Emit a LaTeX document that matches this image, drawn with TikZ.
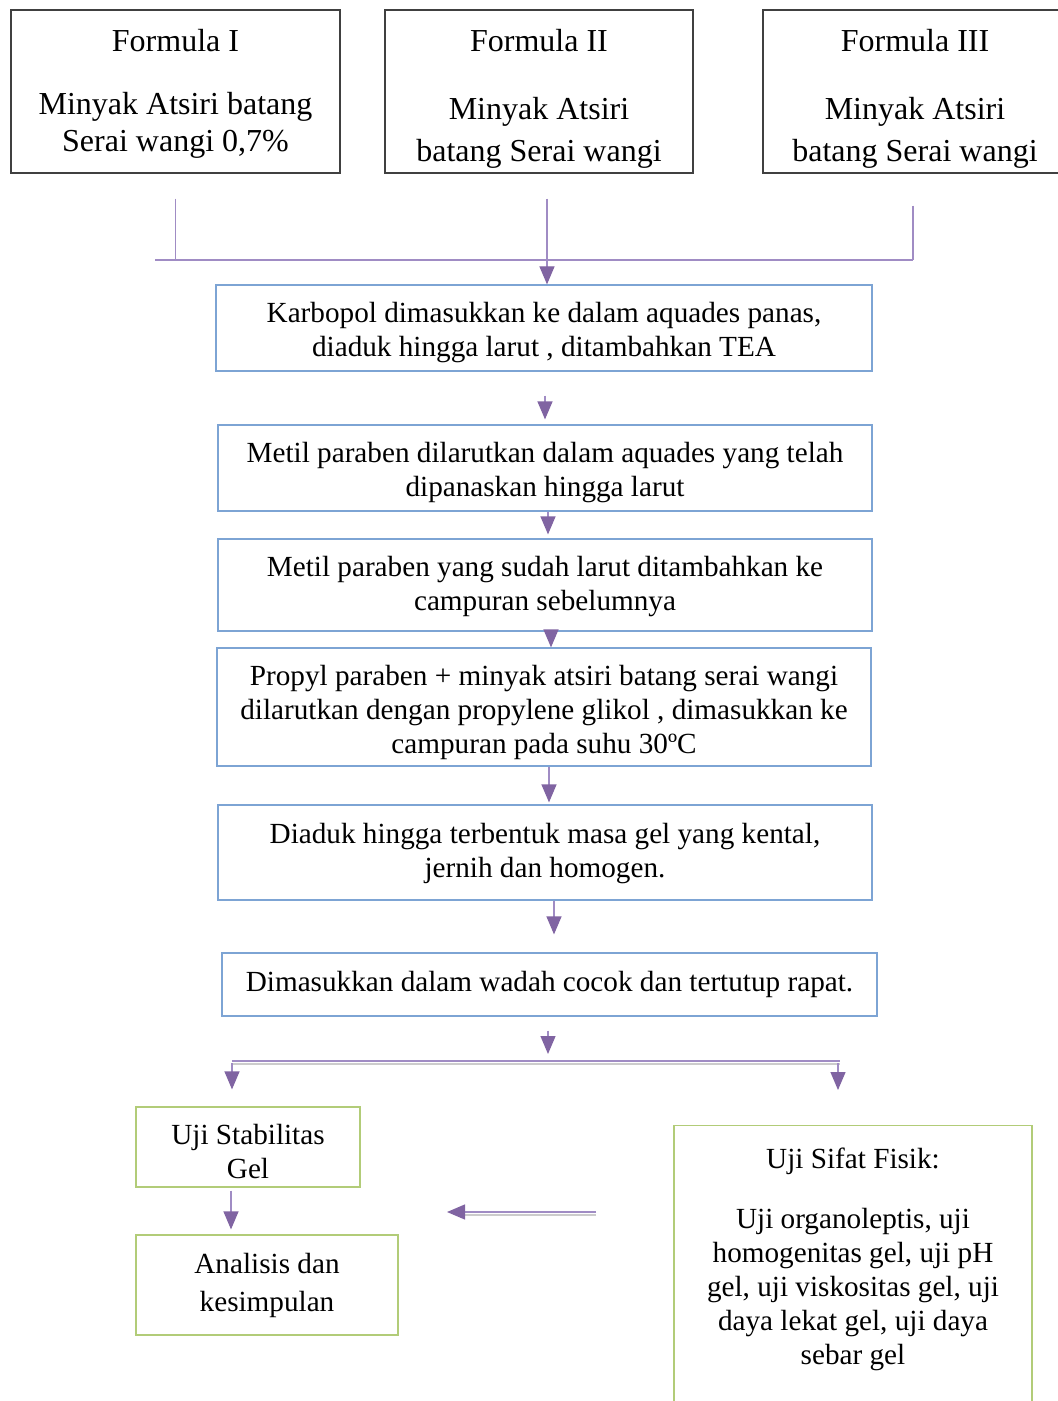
\documentclass[tikz,border=0pt]{standalone}
\usepackage{fontspec}
\setmainfont{Liberation Serif}
\usetikzlibrary{arrows.meta,positioning}
\definecolor{stageblue}{RGB}{125,164,212}
\definecolor{ujigreen}{RGB}{178,204,120}
\definecolor{linkpurple}{RGB}{160,140,196}
\definecolor{arrowpurple}{RGB}{128,100,162}

\begin{document}
\begin{tikzpicture}[x=0.5pt, y=-0.5pt,
    font=\fontsize{14.6pt}{17pt}\selectfont,
    fbox/.style={draw=black!75, line width=0.6pt, minimum height=81.5pt, inner sep=0pt},
    ftext/.style={anchor=north, align=center, inner sep=0pt, font=\fontsize{16pt}{18.5pt}\selectfont},
    stage/.style={draw=stageblue, line width=0.6pt, align=center, inner sep=0pt, minimum width=327pt},
    uji/.style={draw=ujigreen, line width=0.6pt, align=center, inner sep=0pt},
    link/.style={draw=linkpurple, line width=0.6pt},
    shadowline/.style={draw=black!20, line width=0.9pt},
    arr/.style={link, -{Triangle[width=7.5pt,length=9pt,color=arrowpurple]}}]
  \useasboundingbox (0,0) rectangle (1057,1401);

  % formula boxes
  \node[fbox, minimum width=164.5pt] (f1) at (175.5,91.5) {};
  \node[fbox, minimum width=154pt] (f2) at (539,91.5) {};
  \node[fbox, minimum width=150pt] (f3) at (913,91.5) {};
  \node[ftext] (f1txt) at (175.5,29) {Formula I\\[13pt]Minyak Atsiri batang\\Serai wangi 0,7\%};
  \node[ftext] (f2txt) at (539,29) {Formula II\\[15.5pt]Minyak Atsiri\\[2.5pt]batang Serai wangi};
  \node[ftext] (f3txt) at (915,29) {Formula III\\[15.5pt]Minyak Atsiri\\[2.5pt]batang Serai wangi};

  \coordinate (barL) at (155,260);
  \coordinate (barR) at (913,260);
  \draw[link, line width=0.8pt] (barL) -- (barR);
  \draw[link, shorten <=12.5pt] (f1.south) -- (f1.south |- barR);
  \draw[link, shorten <=16pt] (f3.south) -- (f3.south |- barR);

  % process steps
  \node[stage, minimum width=328pt, minimum height=43pt, text height=32pt] (karbo) at (544,328)
    {Karbopol dimasukkan ke dalam aquades panas,\\diaduk hingga larut , ditambahkan TEA};
  \node[stage, minimum height=43pt, text height=32pt] (metil) at (545,468)
    {Metil paraben dilarutkan dalam aquades yang telah\\dipanaskan hingga larut};
  \node[stage, minimum height=46pt, text height=29pt] (campur) at (545,585)
    {Metil paraben yang sudah larut ditambahkan ke\\campuran sebelumnya};
  \node[stage, minimum height=59pt, text height=50pt] (propil) at (544,707)
    {Propyl paraben + minyak atsiri batang serai wangi\\dilarutkan dengan propylene glikol , dimasukkan ke\\campuran pada suhu 30ºC};
  \node[stage, minimum height=47.5pt, text height=28pt] (aduk) at (545,852.5)
    {Diaduk hingga terbentuk masa gel yang kental,\\jernih dan homogen.};
  \node[stage, minimum width=327.5pt, minimum height=31.5pt] (wadah) at (549.5,984.5)
    {Dimasukkan dalam wadah cocok dan tertutup rapat.};

  \draw[arr, shorten <=12.5pt] ([xshift=4pt]f2.south) -- ([xshift=4pt]f2.south |- karbo.north);
  \draw[arr, shorten <=12pt, shorten >=2.5pt] ([xshift=0.5pt]karbo.south) -- ([xshift=0.5pt]karbo.south |- metil.north);
  \draw[arr, shorten >=2pt] ([xshift=1.5pt]metil.south) -- ([xshift=1.5pt]metil.south |- campur.north);
  \draw[arr, shorten <=-5pt] ([xshift=3pt]campur.south) -- ([xshift=3pt]campur.south |- propil.north);
  \draw[arr, shorten >=1pt] ([xshift=2.5pt]propil.south) -- ([xshift=2.5pt]propil.south |- aduk.north);
  \draw[arr, shorten >=9pt] ([xshift=4.5pt]aduk.south) -- ([xshift=4.5pt]aduk.south |- wadah.north);

  % split to the tests
  \coordinate (sL) at (232,1061);
  \coordinate (sR) at (840,1061);
  \draw[shadowline] ([yshift=-1.6pt]sL) -- ([yshift=-1.6pt]sR);
  \draw[link] (sL) -- (sR);
  \draw[arr, shorten <=7pt, shorten >=3.5pt] ([xshift=-0.75pt]wadah.south) -- ([xshift=-0.75pt]wadah.south |- sL);

  \node[uji, minimum width=112pt, minimum height=40pt, text height=31.5pt] (stab) at (248,1147)
    {Uji Stabilitas\\Gel};
  \node[uji, minimum width=131pt, minimum height=50pt, font=\fontsize{14.6pt}{19pt}\selectfont] (anal) at (267,1285)
    {Analisis dan\\kesimpulan};
  \node[uji, minimum width=179pt, minimum height=150pt, anchor=north] (fisik) at (853,1125) {};
  \node[anchor=north, align=center, inner sep=0pt] (fisiktxt) at ([yshift=-11.5pt]fisik.north)
    {Uji Sifat Fisik:\\[13pt]Uji organoleptis, uji\\homogenitas gel, uji pH\\gel, uji viskositas gel, uji\\daya lekat gel, uji daya\\sebar gel};

  \draw[arr, shorten <=1pt, shorten >=8.5pt] (sL) -- (sL |- stab.north);
  \draw[arr, shorten <=1pt, shorten >=17.5pt] ([xshift=-1pt]sR) -- ([xshift=-1pt]sR |- fisik.north);
  \draw[arr, shorten <=1.5pt, shorten >=2.5pt] ([xshift=-8.5pt]stab.south) -- ([xshift=-8.5pt]stab.south |- anal.north);

  \coordinate (balikA) at (596,1212);
  \coordinate (balikB) at (447,1212);
  \draw[shadowline, shorten >=6pt] ([yshift=-1.6pt]balikA) -- ([yshift=-1.6pt]balikB);
  \draw[arr] (balikA) -- (balikB);
\end{tikzpicture}
\end{document}
